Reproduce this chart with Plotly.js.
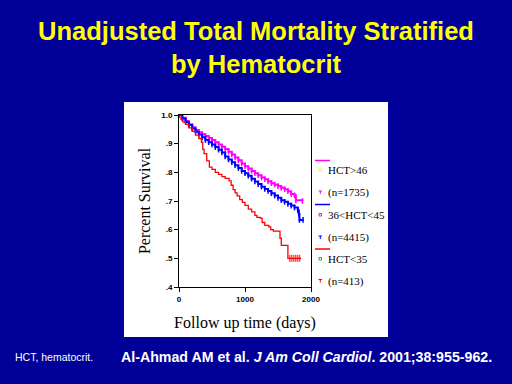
<!DOCTYPE html>
<html>
<head>
<meta charset="utf-8">
<script src="https://cdn.plot.ly/plotly-3.0.1.min.js"></script>
<style>html,body{margin:0;padding:0;background:#000099;}#chart{width:512px;height:384px;}</style>
</head>
<body>
<div id="chart"></div>
<script>
// ---- data ----
const timeHigh = [0,50,100,150,200,250,300,350,400,450,500,550,600,650,700,750,800,850,900,950,1000,1050,1100,1150,1200,1250,1300,1350,1400,1450,1500,1550,1600,1650,1700,1750,1770,1870];
const survHigh = [1.0,0.99,0.979,0.968,0.957,0.948,0.94,0.933,0.927,0.92,0.913,0.905,0.897,0.889,0.881,0.872,0.862,0.852,0.842,0.831,0.821,0.813,0.805,0.797,0.79,0.782,0.776,0.769,0.762,0.757,0.752,0.746,0.741,0.734,0.724,0.72,0.703,0.70];

const timeMid = [0,50,100,150,200,250,300,350,400,450,500,550,600,650,700,750,800,850,900,950,1000,1050,1100,1150,1200,1250,1300,1350,1400,1450,1500,1550,1600,1650,1700,1750,1800,1815,1825,1880];
const survMid = [1.0,0.988,0.976,0.965,0.953,0.942,0.932,0.922,0.913,0.905,0.897,0.888,0.879,0.869,0.855,0.845,0.835,0.825,0.815,0.805,0.797,0.788,0.778,0.768,0.759,0.75,0.742,0.735,0.727,0.719,0.711,0.703,0.697,0.69,0.684,0.677,0.668,0.655,0.634,0.634];

const timeLow = [0,30,60,100,150,200,250,300,340,360,380,420,460,500,550,600,650,700,760,790,820,850,880,920,960,1000,1050,1100,1150,1180,1230,1260,1300,1360,1390,1430,1500,1530,1550,1600,1645,1650,1850];
const survLow = [1.0,0.985,0.975,0.967,0.955,0.943,0.93,0.918,0.905,0.88,0.865,0.84,0.818,0.81,0.80,0.793,0.785,0.779,0.77,0.755,0.74,0.728,0.718,0.705,0.695,0.685,0.672,0.662,0.65,0.643,0.64,0.625,0.615,0.61,0.60,0.595,0.595,0.57,0.545,0.545,0.545,0.50,0.50];

const censorLowTime = [1680,1710,1740,1770,1800,1830];
const censorLowSurv = [0.50,0.50,0.50,0.50,0.50,0.50];

const yTickVals = [0.4,0.5,0.6,0.7,0.8,0.9,1.0];
const yTickText = ['.4','.5','.6','.7','.8','.9','1.0'];
const xTickVals = [0,1000,2000];
const xTickText = ['0','1000','2000'];

const legendLabels = ['HCT>46','(n=1735)','36<HCT<45','(n=4415)','HCT<35','(n=413)'];
const colHigh = '#ff00ff', colMid = '#0000ff', colLow = '#ff0000';

// ---- traces ----
const traces = [
  {x: timeHigh, y: survHigh, mode: 'lines+markers', line: {shape: 'hv', color: colHigh, width: 2},
   marker: {symbol: 'line-ns', size: 4, line: {color: colHigh, width: 1.5}}},
  {x: timeMid, y: survMid, mode: 'lines+markers', line: {shape: 'hv', color: colMid, width: 2},
   marker: {symbol: 'line-ns', size: 4, line: {color: colMid, width: 1.5}}},
  {x: timeLow, y: survLow, mode: 'lines', line: {shape: 'hv', color: colLow, width: 1.3}},
  {x: censorLowTime, y: censorLowSurv, mode: 'markers',
   marker: {symbol: 'line-ns', size: 5, line: {color: colLow, width: 1}}}
];

// plot area in pixels: x 179..311, y 115..287
const PW = 132, PH = 172, PL = 179, PB = 287;
const px = v => (v - PL) / PW;
const py = v => (PB - v) / PH;

const shapes = [
  {type: 'rect', xref: 'paper', yref: 'paper', x0: px(124), x1: px(388), y0: py(337), y1: py(102),
   fillcolor: '#ffffff', line: {width: 0}, layer: 'below'}
];
const legendColors = [colHigh, colMid, colLow];
const lineY = [160.5, 204.5, 249];
const textY = [170, 192.5, 214.5, 237.5, 258.5, 281];
const squareColors = ['#ffff00', colHigh, '#00cc00'];
const tickColors = [colHigh, colMid, colLow];
const annotations = [];
for (let i = 0; i < 3; i++) {
  shapes.push({type: 'line', xref: 'paper', yref: 'paper', x0: px(315), x1: px(330), y0: py(lineY[i]), y1: py(lineY[i]),
    line: {color: legendColors[i], width: 1.5}});
  const sy = textY[2*i];
  shapes.push({type: 'rect', xref: 'paper', yref: 'paper', x0: px(319), x1: px(321.5), y0: py(sy+1.5), y1: py(sy-1),
    line: {color: squareColors[i], width: 1}, fillcolor: 'rgba(0,0,0,0)'});
  const ty = textY[2*i+1];
  shapes.push({type: 'line', xref: 'paper', yref: 'paper', x0: px(318.5), x1: px(322), y0: py(ty-1.5), y1: py(ty-1.5),
    line: {color: tickColors[i], width: 1}});
  shapes.push({type: 'line', xref: 'paper', yref: 'paper', x0: px(320.3), x1: px(320.3), y0: py(ty-1.5), y1: py(ty+1.5),
    line: {color: tickColors[i], width: 1}});
}
for (let i = 0; i < legendLabels.length; i++) {
  annotations.push({xref: 'paper', yref: 'paper', x: px(326), y: py(textY[i]), xanchor: 'left', yanchor: 'middle',
    text: legendLabels[i], showarrow: false,
    font: {family: 'Liberation Serif, Times New Roman, serif', size: 11, color: '#000000'}});
}
annotations.push({xref: 'paper', yref: 'paper', x: px(13), y: py(357), xanchor: 'left', yanchor: 'middle',
  text: 'HCT, hematocrit.', showarrow: false,
  font: {family: 'Liberation Sans, Arial, sans-serif', size: 10.5, color: '#ffffff'}});
annotations.push({xref: 'paper', yref: 'paper', x: px(306), y: py(357), xanchor: 'center', yanchor: 'middle',
  text: '<b>Al-Ahmad AM et al. <i>J Am Coll Cardiol</i>. 2001;38:955-962.</b>', showarrow: false,
  font: {family: 'Liberation Sans, Arial, sans-serif', size: 14.2, color: '#ffffff'}});

const tickFont = {family: 'Liberation Sans, Arial, sans-serif', size: 8, color: '#000000', weight: 'bold'};
const layout = {
  width: 512, height: 384,
  paper_bgcolor: '#000099', plot_bgcolor: '#ffffff',
  margin: {l: PL, r: 512 - 311, t: 115, b: 384 - PB, pad: 0},
  showlegend: false, hovermode: false,
  title: {text: 'Unadjusted Total Mortality Stratified<br>by Hematocrit',
    font: {family: 'Liberation Sans, Arial, sans-serif', size: 25.5, color: '#ffff00', weight: 'bold'},
    x: 0.5, xanchor: 'center', xref: 'container', y: 0.897, yanchor: 'top', yref: 'container'},
  xaxis: {range: [0, 2000], tickvals: xTickVals, ticktext: xTickText, ticks: 'outside', ticklen: 4,
    tickcolor: '#000', showline: true, linecolor: '#000', linewidth: 1, mirror: true, showgrid: false,
    zeroline: false, tickfont: tickFont, fixedrange: true,
    title: {text: 'Follow up time (days)', standoff: 14,
      font: {family: 'Liberation Serif, Times New Roman, serif', size: 16, color: '#000000'}}},
  yaxis: {range: [0.4, 1.0], tickvals: yTickVals, ticktext: yTickText, ticks: 'outside', ticklen: 4,
    tickcolor: '#000', showline: true, linecolor: '#000', linewidth: 1, mirror: true, showgrid: false,
    zeroline: false, tickfont: tickFont, fixedrange: true,
    title: {text: 'Percent Survival', standoff: 6,
      font: {family: 'Liberation Serif, Times New Roman, serif', size: 16, color: '#000000'}}},
  shapes: shapes,
  annotations: annotations
};
Plotly.newPlot('chart', traces, layout, {displayModeBar: false, staticPlot: true});
</script>
</body>
</html>
